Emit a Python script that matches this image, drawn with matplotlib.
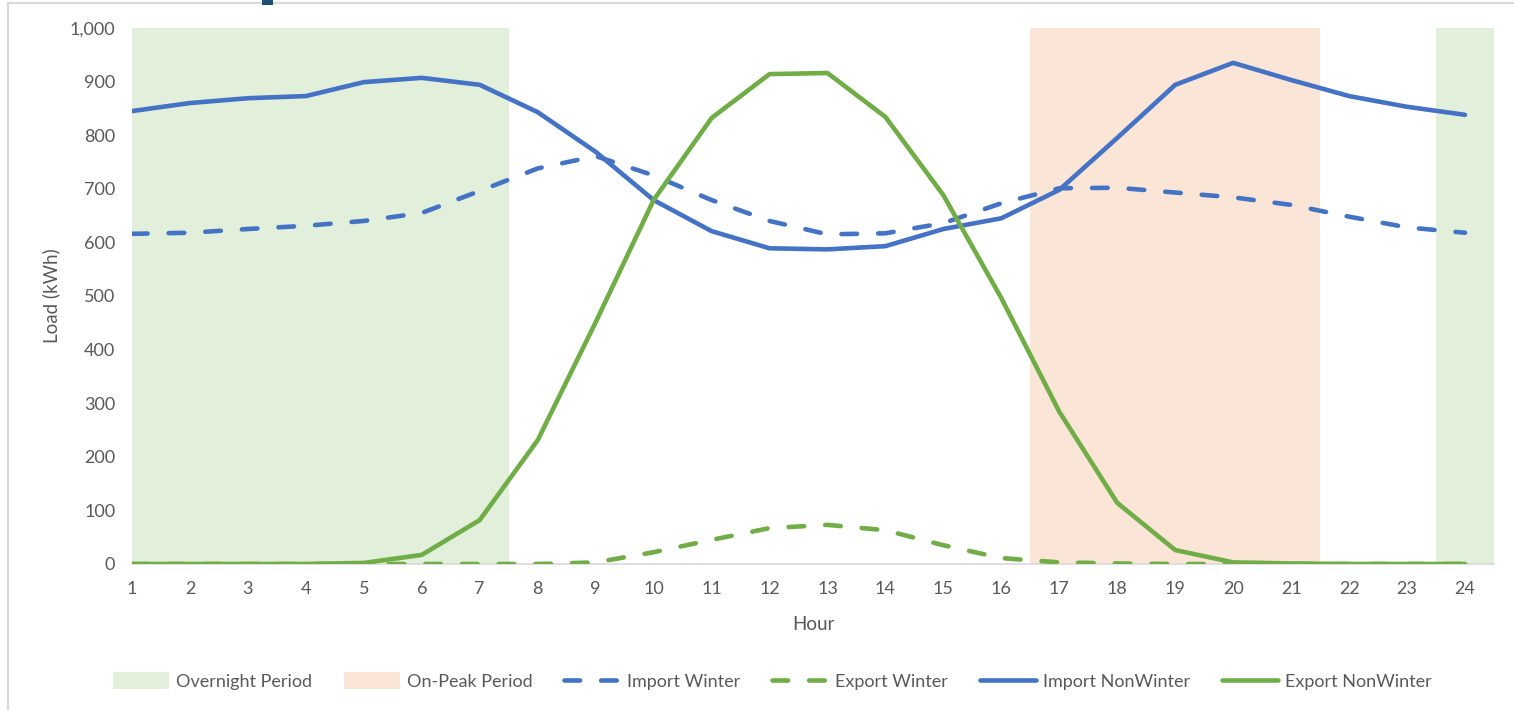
#!/usr/bin/env python
# -*- coding: utf-8 -*-

import numpy as np
import matplotlib as mpl
import matplotlib.pyplot as plt
from matplotlib.patches import Rectangle, Patch
from matplotlib.ticker import FuncFormatter, MultipleLocator

mpl.use('agg')

plt.rcParams['font.family'] = ['Lato', 'DejaVu Sans']

hours = np.arange(1, 25)

import_winter = [616, 618, 625, 631, 640, 655, 696, 738, 761, 725, 679, 640,
                 615, 617, 636, 673, 701, 702, 693, 684, 670, 648, 628, 618]
export_winter = [0, 0, 0, 0, 0, 0, 0, 0, 3, 22, 45, 67,
                 73, 63, 35, 11, 3, 1, 0, 0, 0, 0, 0, 0]
import_nonwinter = [845, 860, 869, 873, 899, 907, 894, 843, 769, 679, 621, 589,
                    587, 593, 625, 645, 698, 795, 894, 935, 903, 873, 853, 838]
export_nonwinter = [0, 0, 0, 0, 2, 17, 82, 231, 451, 679, 832, 914,
                    916, 834, 688, 496, 284, 114, 26, 3, 1, 0, 0, 0]

overnight_hours = [1, 2, 3, 4, 5, 6, 7, 24]
peak_hours = [17, 18, 19, 20, 21]

BLUE = '#4472C4'
GREEN = '#70AD47'
GREY = '#595959'

################################################################################
fig = plt.figure(figsize=(15.14, 7.10), dpi=100)
ax = fig.add_axes([132 / 1514, 146 / 710, 1362 / 1514, 536 / 710])
################################################################################

# shaded tariff periods, one full-height bar per hour
ymax = 1000
ax.bar(overnight_hours, ymax, width=1.0, color='#E2EFDA', linewidth=0, zorder=0)
ax.bar(peak_hours, ymax, width=1.0, color='#FBE5D6', linewidth=0, zorder=0)

dash_kw = dict(lw=3.3, dashes=(3.4, 4.6), dash_capstyle='round',
               solid_joinstyle='round')
ax.plot(hours, import_winter, color=BLUE, **dash_kw, zorder=3)
ax.plot(hours, export_winter, color=GREEN, **dash_kw, zorder=3)
ax.plot(hours, import_nonwinter, color=BLUE, lw=3.3, solid_capstyle='round',
        solid_joinstyle='round', zorder=4)
ax.plot(hours, export_nonwinter, color=GREEN, lw=3.3, solid_capstyle='round',
        solid_joinstyle='round', zorder=4)

ax.set_xlim(1, 24.5)
ax.set_ylim(0, ymax)
ax.set_xticks(hours)
ax.yaxis.set_major_locator(MultipleLocator(100))
ax.yaxis.set_major_formatter(FuncFormatter(lambda v, p: '{:,.0f}'.format(v)))
ax.tick_params(length=0, labelsize=13, labelcolor=GREY)
ax.tick_params(axis='x', pad=12)
ax.tick_params(axis='y', pad=12)

for side in ['top', 'right', 'left']:
    ax.spines[side].set_visible(False)
ax.spines['bottom'].set_color('#D9D9D9')
ax.spines['bottom'].set_linewidth(1.2)
ax.spines['bottom'].set_zorder(2)

ax.set_xlabel('Hour', fontsize=13.5, color=GREY, labelpad=14)
ax.set_ylabel('Load (kWh)', fontsize=13.5, color=GREY, labelpad=7)

handles = [
    Patch(facecolor='#E2EFDA', edgecolor='none', label='Overnight Period'),
    Patch(facecolor='#FBE5D6', edgecolor='none', label='On-Peak Period'),
    plt.Line2D([], [], color=BLUE, label='Import Winter', **dash_kw),
    plt.Line2D([], [], color=GREEN, label='Export Winter', **dash_kw),
    plt.Line2D([], [], color=BLUE, lw=3.3, solid_capstyle='round',
               label='Import NonWinter'),
    plt.Line2D([], [], color=GREEN, lw=3.3, solid_capstyle='round',
               label='Export NonWinter'),
]
leg = fig.legend(handles=handles, loc='center', bbox_to_anchor=(0.51, 29 / 710),
                 ncol=6, frameon=False, fontsize=13, handlelength=3.1,
                 handleheight=1.0, handletextpad=0.4, columnspacing=1.75)
for t in leg.get_texts():
    t.set_color(GREY)

# chart frame
fig.patches.append(Rectangle((8 / 1514, -0.05), 1.1, 0.05 + 707 / 710,
                             transform=fig.transFigure, fill=False,
                             edgecolor='#D9D9D9', lw=1.5))
fig.patches.append(Rectangle((262 / 1514, 705 / 710), 11 / 1514, 5 / 710,
                             transform=fig.transFigure, facecolor='#1F4E79',
                             edgecolor='none'))

plt.savefig('out.png')
